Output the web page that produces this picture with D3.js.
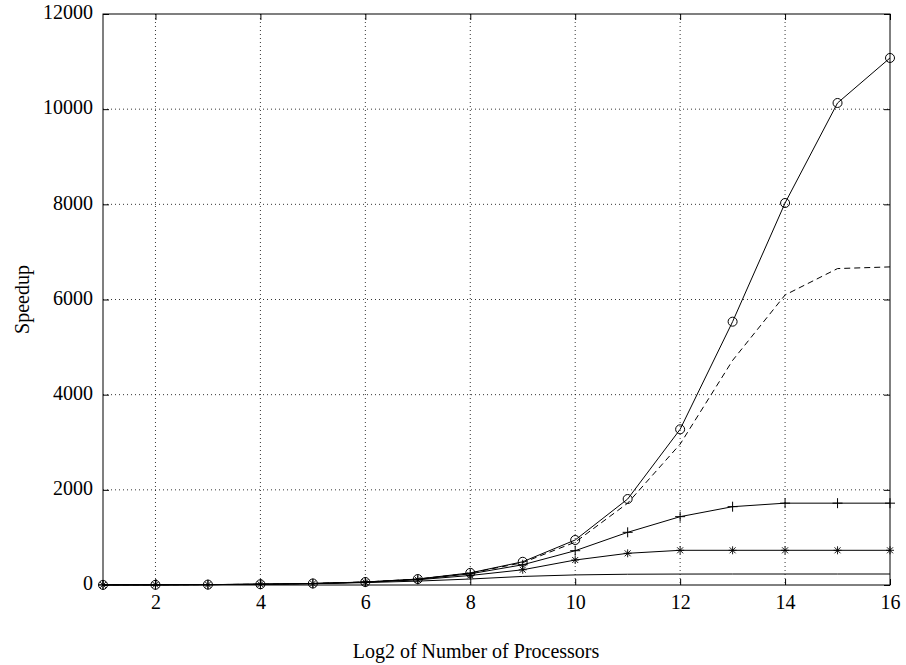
<!DOCTYPE html>
<html>
<head>
<meta charset="utf-8">
<script src="https://cdn.jsdelivr.net/npm/d3@7"></script>
<style>
  html, body { margin: 0; padding: 0; background: #fff; }
  svg { display: block; font-family: "Liberation Serif", "Times New Roman", serif; }
</style>
</head>
<body>
<svg id="chart" width="906" height="665"></svg>
<script>
// log2 of processor count
const logProcs = [1, 2, 3, 4, 5, 6, 7, 8, 9, 10, 11, 12, 13, 14, 15, 16];

// speedup series
const speedIdeal   = [2, 4, 8, 16, 32, 63, 125, 255, 488, 946, 1807, 3272, 5534, 8028, 10130, 11076];
const speedDashed  = [2, 4, 8, 16, 32, 63, 124, 250, 470, 900, 1720, 2960, 4720, 6095, 6650, 6685];
const speedPlus    = [2, 4, 8, 16, 31, 61, 118, 235, 425, 721, 1107, 1436, 1646, 1720, 1720, 1720];
const speedStar    = [2, 4, 8, 16, 30, 58, 110, 200, 320, 525, 666, 729, 729, 729, 729, 729];
const speedPlain   = [2, 4, 8, 15, 28, 50, 82, 126, 180, 212, 226, 230, 231, 231, 231, 231];

const xTicks = [2, 4, 6, 8, 10, 12, 14, 16];
const yTicks = [0, 2000, 4000, 6000, 8000, 10000, 12000];

const svg = d3.select("#chart");
const plotL = 103, plotR = 890, plotT = 14, plotB = 585;

const x = d3.scaleLinear().domain([1, 16]).range([plotL, plotR]);
const y = d3.scaleLinear().domain([0, 12000]).range([plotB, plotT]);

// dotted grid
const grid = svg.append("g");
grid.selectAll("line.gx").data(xTicks.filter(t => t < 16)).join("line")
  .attr("x1", d => x(d)).attr("x2", d => x(d))
  .attr("y1", plotT).attr("y2", plotB)
  .attr("stroke", "#000").attr("stroke-width", 0.8).attr("stroke-dasharray", "1,3");
grid.selectAll("line.gy").data(yTicks.filter(t => t > 0 && t < 12000)).join("line")
  .attr("x1", plotL).attr("x2", plotR)
  .attr("y1", d => y(d)).attr("y2", d => y(d))
  .attr("stroke", "#000").attr("stroke-width", 0.8).attr("stroke-dasharray", "1,3");

// axes with inward ticks on all four sides
const tl = 6;
const fontSize = 20;
const fmt = d3.format("d");
svg.append("g").attr("transform", `translate(0,${plotB})`)
  .call(d3.axisBottom(x).tickValues(xTicks).tickFormat(fmt).tickSize(-tl).tickPadding(10))
  .call(g => g.select(".domain").remove());
svg.append("g").attr("transform", `translate(0,${plotT})`)
  .call(d3.axisTop(x).tickValues(xTicks).tickSize(-tl).tickFormat(""))
  .call(g => g.select(".domain").remove());
svg.append("g").attr("transform", `translate(${plotL},0)`)
  .call(d3.axisLeft(y).tickValues(yTicks).tickFormat(fmt).tickSize(-tl).tickPadding(10))
  .call(g => g.select(".domain").remove())
  .call(g => g.selectAll(".tick text").attr("dy", "0.24em"));
svg.append("g").attr("transform", `translate(${plotR},0)`)
  .call(d3.axisRight(y).tickValues(yTicks).tickSize(-tl).tickFormat(""))
  .call(g => g.select(".domain").remove());

svg.selectAll(".tick text")
  .attr("font-family", "'Liberation Serif', 'Times New Roman', serif")
  .attr("font-size", fontSize).attr("fill", "#000");
svg.selectAll(".tick line").attr("stroke", "#000");

svg.append("rect")
  .attr("x", plotL).attr("y", plotT)
  .attr("width", plotR - plotL).attr("height", plotB - plotT)
  .attr("fill", "none").attr("stroke", "#000").attr("stroke-width", 1);

// series lines
const line = d3.line().x((d, i) => x(logProcs[i])).y(d => y(d));
const series = [
  { vals: speedPlain,  dash: null,  marker: null },
  { vals: speedStar,   dash: null,  marker: "star" },
  { vals: speedPlus,   dash: null,  marker: "plus" },
  { vals: speedDashed, dash: "6,4", marker: null },
  { vals: speedIdeal,  dash: null,  marker: "circle" }
];

series.forEach(s => {
  svg.append("path").datum(s.vals)
    .attr("d", line)
    .attr("fill", "none").attr("stroke", "#000").attr("stroke-width", 1)
    .attr("stroke-dasharray", s.dash);

  const pts = svg.append("g").selectAll("g").data(s.vals).join("g")
    .attr("transform", (d, i) => `translate(${x(logProcs[i])},${y(d)})`);
  if (s.marker === "circle") {
    pts.append("circle").attr("r", 4.5).attr("fill", "none").attr("stroke", "#000").attr("stroke-width", 1);
  } else if (s.marker === "plus") {
    pts.append("path").attr("d", "M-5,0H5M0,-5V5").attr("stroke", "#000").attr("stroke-width", 1);
  } else if (s.marker === "star") {
    pts.append("path").attr("d", "M-4,0H4M0,-4V4M-3,-3L3,3M-3,3L3,-3").attr("stroke", "#000").attr("stroke-width", 0.9);
  }
});

// axis titles
svg.append("text")
  .attr("x", 476).attr("y", 658)
  .attr("text-anchor", "middle").attr("font-size", 20)
  .text("Log2 of Number of Processors");
svg.append("text")
  .attr("transform", `translate(29,${(plotT + plotB) / 2}) rotate(-90)`)
  .attr("text-anchor", "middle").attr("font-size", 20)
  .text("Speedup");
</script>
</body>
</html>
